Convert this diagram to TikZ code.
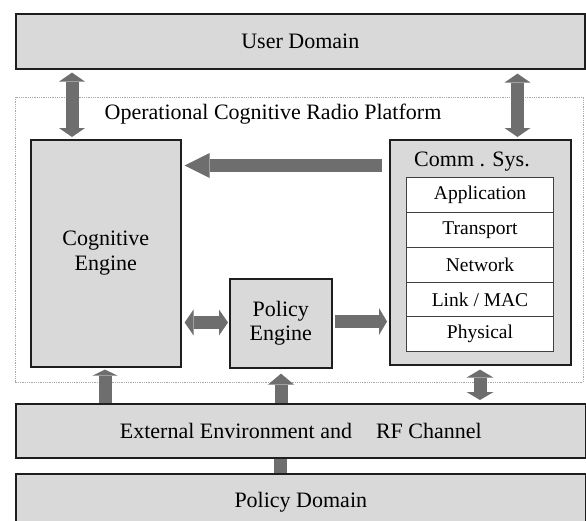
\documentclass[tikz,border=0pt]{standalone}
\usepackage{fontspec}
\setmainfont{Liberation Serif}
\usetikzlibrary{arrows.meta}
\definecolor{boxgray}{HTML}{D9D9D9}
\definecolor{arrgray}{HTML}{6E6E6E}
\definecolor{edgec}{HTML}{1E1E1E}
\definecolor{dotc}{HTML}{A8A8A8}
\begin{document}
\begin{tikzpicture}[x=1pt,y=-1pt,
  box/.style={draw=edgec, fill=boxgray, line width=1.6pt, inner sep=0pt, anchor=north west},
  layer/.style={draw=edgec!85, fill=white, line width=1pt, inner sep=0pt, anchor=north west,
    minimum width=147pt, minimum height=35pt, font=\fontsize{19.5}{21}\selectfont},
  big/.style={font=\fontsize{22}{24.5}\selectfont, align=center},
  fat/.style={draw=arrgray, line width=13pt},
  tipS/.tip={Triangle[width=26pt,length=9pt,line width=0pt]},
  tipL/.tip={Triangle[width=25pt,length=25pt,line width=0pt]},
  tipT/.tip={Triangle[width=25pt,length=6pt,line width=0pt]},
  tipM/.tip={Triangle[width=26pt,length=11pt,line width=0pt]},
  tipN/.tip={Triangle[width=27pt,length=8pt,line width=0pt]},
]
\useasboundingbox (0,0) rectangle (586,520);
\fill[white] (0,0) rectangle (586,520);
\clip (0,0) rectangle (586,520);

% platform frame
\draw[dotc, line width=0.8pt, densely dotted] (15,97) rectangle (583,382);
\node[big] (plat) at (273,114) {Operational Cognitive Radio Platform};

% boxes
\node[box, big, minimum width=569pt, minimum height=55pt] (ud) at (15,13) {User Domain};
\node[box, big, minimum width=150pt, minimum height=227pt] (ce) at (30,139) {Cognitive\\Engine};
\node[box, big, minimum width=102pt, minimum height=89pt] (pe) at (229,278) {Policy\\Engine};
\node[box, minimum width=181pt, minimum height=225pt] (cs) at (389,139) {};
\node[big] (cst) at (472,162) {Comm . Sys.};
\node[layer] (l1) at (406,177) {Application};
\node[layer] (l2) at (406,212) {Transport};
\node[layer] (l3) at (406,247) {Network};
\node[layer] (l4) at (406,282) {Link / MAC};
\node[layer] (l5) at (406,316) {Physical};
\node[box, big, minimum width=570pt, minimum height=54pt] (ext) at (15,403) {External Environment and\hspace{24pt}RF Channel};
\node[box, big, minimum width=570pt, minimum height=56pt] (pd) at (15,473) {Policy Domain};

% reference coordinates for connector lines
\coordinate (xa) at (72,0);
\coordinate (xb) at (517.5,0);
\coordinate (ya) at (0,165.5);
\coordinate (yb) at (0,322.5);
\coordinate (yc) at (0,321.5);
\coordinate (xc) at (105,0);
\coordinate (xd) at (281,0);
\coordinate (xe) at (480,0);
\coordinate (xf) at (280,0);

% connectors
\draw[fat, {tipS}-{tipS}, shorten <=3pt, shorten >=2pt] (ud.south -| xa) -- (ce.north -| xa);
\draw[fat, {tipS}-{tipS}, shorten <=4pt, shorten >=2pt] (ud.south -| xb) -- (cs.north -| xb);
\draw[fat, -{tipL}, shorten <=7pt, shorten >=3pt] (cs.west |- ya) -- (ce.east |- ya);
\draw[fat, {tipS}-{tipS}, shorten <=3pt, shorten >=1pt] (ce.east |- yb) -- (pe.west |- yb);
\draw[fat, -{tipN}, shorten <=2pt, shorten >=2pt] (pe.east |- yc) -- (cs.west |- yc);
\draw[fat, -{tipT}, shorten >=2pt] (ext.north -| xc) -- (ce.south -| xc);
\draw[fat, -{tipM}, shorten >=5pt] (ext.north -| xd) -- (pe.south -| xd);
\draw[fat, {tipN}-{tipN}, shorten <=3pt, shorten >=4pt] (ext.north -| xe) -- (cs.south -| xe);
\draw[fat] (pd.north -| xf) -- (ext.south -| xf);
\end{tikzpicture}
\end{document}
